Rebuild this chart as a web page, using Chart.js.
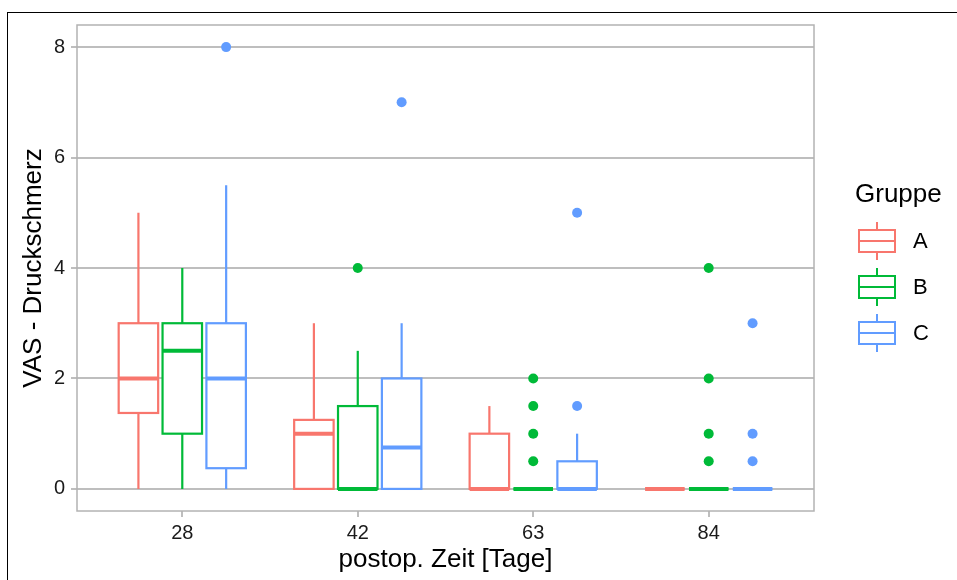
<!DOCTYPE html>
<html>
<head>
<meta charset="utf-8">
<script src="https://cdn.jsdelivr.net/npm/chart.js@4.4.1/dist/chart.umd.min.js"></script>
<style>
  html, body { margin: 0; padding: 0; background: #fff; }
  #wrap { position: relative; width: 957px; height: 580px; overflow: hidden; }
  #frame { position: absolute; left: 7px; top: 12px; width: 980px; height: 600px; border-left: 1px solid #000; border-top: 1px solid #000; pointer-events: none; }
</style>
</head>
<body>
<div id="wrap">
  <canvas id="vas_chart" width="957" height="580"></canvas>
  <div id="frame"></div>
</div>
<script>
"use strict"

	var tage = ['28', '42', '63', '84'];
	var gruppen = ['A', 'B', 'C'];
	var farben = ['#F8766D', '#00BA38', '#619CFF'];

	// je Zeitpunkt: [unterer Whisker, Q1, Median, Q3, oberer Whisker]
	var boxA = [[0, 1.375, 2, 3, 5], [0, 0, 1, 1.25, 3], [0, 0, 0, 1, 1.5], [0, 0, 0, 0, 0]];
	var boxB = [[0, 1, 2.5, 3, 4], [0, 0, 0, 1.5, 2.5], [0, 0, 0, 0, 0], [0, 0, 0, 0, 0]];
	var boxC = [[0, 0.375, 2, 3, 5.5], [0, 0, 0.75, 2, 3], [0, 0, 0, 0.5, 1], [0, 0, 0, 0, 0]];

	// Ausreisser je Zeitpunkt
	var ausreisserA = [[], [], [], []];
	var ausreisserB = [[], [4], [0.5, 1, 1.5, 2], [0.5, 1, 2, 4]];
	var ausreisserC = [[8], [7], [1.5, 5], [0.5, 1, 3]];

	var yTicks = [0, 2, 4, 6, 8];

	var boxen = [boxA, boxB, boxC];
	var ausreisser = [ausreisserA, ausreisserB, ausreisserC];
	var dodge = 0.25;
	var boxBreite = 0.225;
	var schrift = 'Liberation Sans, Arial, sans-serif';

	var vas_datasets = gruppen.map(function (g, gi) {
		var punkte = [];
		ausreisser[gi].forEach(function (werte, ti) {
			werte.forEach(function (v) {
				punkte.push({ x: ti + 1 + (gi - 1) * dodge, y: v });
			});
		});
		return {
			label: g,
			data: punkte,
			box: boxen[gi],
			backgroundColor: farben[gi],
			borderColor: farben[gi],
			pointRadius: 5,
			pointBorderWidth: 0,
			pointHoverRadius: 5
		};
	});

	// Boxen ueber die Skalen zeichnen
	var boxplotPlugin = {
		id: 'boxplot',
		beforeDatasetsDraw: function (chart) {
			var ctx = chart.ctx, xs = chart.scales.x, ys = chart.scales.y;
			chart.data.datasets.forEach(function (ds, gi) {
				ds.box.forEach(function (s, ti) {
					var xc = ti + 1 + (gi - 1) * dodge;
					var x0 = xs.getPixelForValue(xc - boxBreite / 2);
					var x1 = xs.getPixelForValue(xc + boxBreite / 2);
					var xm = xs.getPixelForValue(xc);
					var yLo = ys.getPixelForValue(s[0]);
					var yQ1 = ys.getPixelForValue(s[1]);
					var yMed = ys.getPixelForValue(s[2]);
					var yQ3 = ys.getPixelForValue(s[3]);
					var yHi = ys.getPixelForValue(s[4]);
					ctx.save();
					ctx.strokeStyle = ds.borderColor;
					ctx.lineWidth = 2.2;
					ctx.beginPath();
					ctx.moveTo(xm, yQ3); ctx.lineTo(xm, yHi);
					ctx.moveTo(xm, yQ1); ctx.lineTo(xm, yLo);
					ctx.stroke();
					ctx.fillStyle = '#fff';
					ctx.fillRect(x0, yQ3, x1 - x0, yQ1 - yQ3);
					ctx.strokeRect(x0, yQ3, x1 - x0, yQ1 - yQ3);
					ctx.lineWidth = 4;
					ctx.beginPath();
					ctx.moveTo(x0, yMed); ctx.lineTo(x1, yMed);
					ctx.stroke();
					ctx.restore();
				});
			});
		},
		afterDatasetsDraw: function (chart) {
			var ctx = chart.ctx, a = chart.chartArea;
			ctx.save();
			ctx.strokeStyle = '#b3b3b3';
			ctx.lineWidth = 1.5;
			ctx.strokeRect(a.left, a.top, a.right - a.left, a.bottom - a.top);
			ctx.restore();
		}
	};

	// Legende mit Boxplot-Symbolen
	var legendePlugin = {
		id: 'legende',
		afterDraw: function (chart) {
			var ctx = chart.ctx;
			ctx.save();
			ctx.fillStyle = '#000';
			ctx.textBaseline = 'middle';
			ctx.textAlign = 'left';
			ctx.font = '26px ' + schrift;
			ctx.fillText('Gruppe', 855, 195);
			ctx.font = '22px ' + schrift;
			chart.data.datasets.forEach(function (ds, i) {
				var cy = 241 + i * 46;
				ctx.strokeStyle = ds.borderColor;
				ctx.lineWidth = 2;
				ctx.beginPath();
				ctx.moveTo(877, cy - 19); ctx.lineTo(877, cy - 11);
				ctx.moveTo(877, cy + 11); ctx.lineTo(877, cy + 19);
				ctx.stroke();
				ctx.strokeRect(859, cy - 11, 36, 22);
				ctx.beginPath();
				ctx.moveTo(859, cy); ctx.lineTo(895, cy);
				ctx.stroke();
				ctx.fillStyle = '#000';
				ctx.fillText(ds.label, 913, cy + 1);
			});
			ctx.restore();
		}
	};

	var vas_config = {
		type: 'scatter',
		data: { datasets: vas_datasets },
		options: {
			responsive: false,
			animation: false,
			devicePixelRatio: 1,
			layout: { padding: { top: 25, right: 143, left: 0, bottom: 0 } },
			plugins: {
				legend: { display: false },
				tooltip: { enabled: false }
			},
			scales: {
				x: {
					type: 'linear',
					min: 0.4,
					max: 4.6,
					afterBuildTicks: function (s) {
						s.ticks = tage.map(function (t, i) { return { value: i + 1 }; });
					},
					afterFit: function (s) { s.height = 69; },
					border: { display: false },
					grid: { drawOnChartArea: false, color: '#bebebe', lineWidth: 2, tickLength: 6 },
					ticks: {
						color: '#1a1a1a',
						font: { family: schrift, size: 20 },
						padding: 4,
						maxRotation: 0,
						callback: function (v) { return tage[Math.round(v) - 1]; }
					},
					title: {
						display: true,
						text: 'postop. Zeit [Tage]',
						color: '#000',
						font: { family: schrift, size: 26 },
						padding: { top: 0, bottom: 5 }
					}
				},
				y: {
					type: 'linear',
					min: -0.4,
					max: 8.4,
					afterBuildTicks: function (s) {
						s.ticks = yTicks.map(function (v) { return { value: v }; });
					},
					afterFit: function (s) { s.width = 77; },
					border: { display: false },
					grid: { color: '#bebebe', lineWidth: 2, tickLength: 6 },
					ticks: {
						color: '#1a1a1a',
						font: { family: schrift, size: 20 },
						padding: 6
					},
					title: {
						display: true,
						text: 'VAS - Druckschmerz',
						color: '#000',
						font: { family: schrift, size: 26 },
						padding: { top: 18, bottom: 0 }
					}
				}
			}
		},
		plugins: [boxplotPlugin, legendePlugin]
	};

	var vas_ctx = document.getElementById('vas_chart').getContext('2d');
	var vas_chart = new Chart(vas_ctx, vas_config);
</script>
</body>
</html>
